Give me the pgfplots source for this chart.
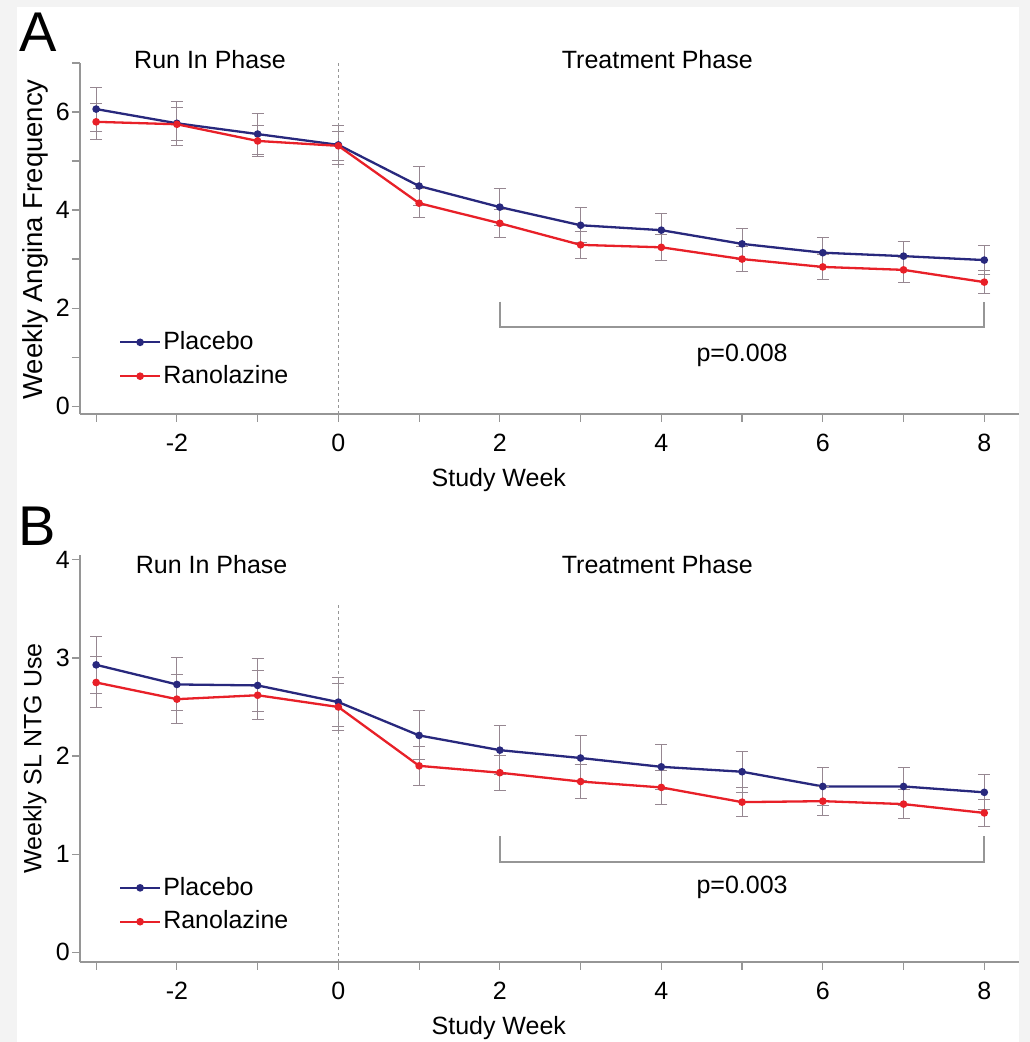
\documentclass[border=0pt]{standalone}
\usepackage{fontspec}
\setmainfont{Liberation Sans}
\usepackage{pgfplots}
\pgfplotsset{compat=1.18}

\definecolor{placebo}{RGB}{40,40,125}
\definecolor{rano}{RGB}{232,32,40}
\definecolor{errgray}{RGB}{150,135,145}
\definecolor{axgray}{RGB}{150,150,150}
\definecolor{margin}{RGB}{243,243,243}

% week  mean  err
\pgfplotstableread{
x y e
-3 6.06 0.45
-2 5.77 0.45
-1 5.55 0.41
0 5.33 0.40
1 4.49 0.40
2 4.06 0.38
3 3.69 0.36
4 3.59 0.35
5 3.31 0.32
6 3.13 0.31
7 3.06 0.30
8 2.98 0.29
}\angPlacebo
\pgfplotstableread{
x y e
-3 5.80 0.37
-2 5.75 0.34
-1 5.41 0.31
0 5.31 0.29
1 4.14 0.29
2 3.73 0.28
3 3.29 0.28
4 3.24 0.27
5 3.00 0.26
6 2.84 0.25
7 2.78 0.25
8 2.53 0.24
}\angRano
\pgfplotstableread{
x y e
-3 2.93 0.29
-2 2.73 0.27
-1 2.72 0.27
0 2.55 0.25
1 2.21 0.25
2 2.06 0.25
3 1.98 0.23
4 1.89 0.23
5 1.84 0.21
6 1.69 0.19
7 1.69 0.19
8 1.63 0.18
}\ntgPlacebo
\pgfplotstableread{
x y e
-3 2.75 0.26
-2 2.58 0.25
-1 2.62 0.25
0 2.50 0.24
1 1.90 0.20
2 1.83 0.18
3 1.74 0.17
4 1.68 0.17
5 1.53 0.15
6 1.54 0.15
7 1.51 0.15
8 1.42 0.14
}\ntgRano

\pgfplotsset{
  panel/.style={
    scale only axis, width=939pt,
    xmin=-3.2, xmax=8.43,
    axis x line*=bottom, axis y line*=left,
    axis line style={axgray, line width=1.8pt},
    tick style={axgray, line width=1.2pt},
    tick align=outside, major tick length=8pt,
    xtick={-3,...,8}, xticklabels={,-2,,0,,2,,4,,6,,8},
    xticklabel style={yshift=-4pt},
    yticklabel style={inner sep=2pt},
    /pgf/number format/assume math mode=true,
    clip=false,
    xlabel={Study Week},
    xlabel style={at={(axis description cs:0.446,0)}, anchor=center, yshift=-66pt},
    ylabel style={at={(axis description cs:-0.048,0.5)}, anchor=center, rotate=0},
    legend style={draw=none, fill=none, inner sep=0pt, row sep=8pt},
    legend cell align=left,
    legend image code/.code={\draw[mark repeat=2,mark phase=2,#1] plot coordinates {(0pt,0pt) (20pt,0pt) (40pt,0pt)};},
  },
  pl/.style={line width=2.3pt, mark=*, mark size=2.6pt, mark options={solid},
    error bars/y dir=both, error bars/y explicit,
    error bars/error bar style={errgray, line width=1pt},
    error bars/error mark options={errgray, rotate=90, mark size=6pt, line width=1pt}},
}

\begin{document}
\fontsize{25}{30}\selectfont
\begin{tikzpicture}
\fill[margin] (0,0) rectangle (1030pt,1042pt);
\fill[white] (17pt,0) rectangle (1019pt,1035pt);
\path[use as bounding box] (0,0) rectangle (1030pt,1042pt);

% Panel A
\begin{axis}[panel, at={(80pt,628pt)}, height=351pt,
  ymin=-0.16, ymax=7,
  ytick={0,...,7}, yticklabels={0,,2,,4,,6,},
  ylabel={Weekly Angina Frequency},
  ylabel style={font=\fontsize{27.5}{30}\selectfont, xshift=-1pt},
  legend style={at={(axis cs:-2.72,1.57)}, anchor=north west}]
\addplot[pl, placebo] table[x=x, y=y, y error=e] {\angPlacebo};
\addlegendentry{Placebo}
\addplot[pl, rano] table[x=x, y=y, y error=e] {\angRano};
\addlegendentry{Ranolazine}
\draw[axgray, line width=1.2pt, dash pattern=on 3pt off 3pt] (axis cs:0,-0.16) -- (axis cs:0,7);
\draw[axgray, line width=1.6pt] (axis cs:2,2.13) -- (axis cs:2,1.62) -- (axis cs:8,1.62) -- (axis cs:8,2.13);
\node at (axis cs:-1.59,7.06) {Run In Phase};
\node at (axis cs:3.95,7.06) {Treatment Phase};
\node at (axis cs:5.0,1.04) {p=0.008};
\end{axis}

% Panel B
\begin{axis}[panel, at={(80pt,80pt)}, height=407pt,
  ymin=-0.1, ymax=4.05,
  ytick={0,...,4},
  ylabel={Weekly SL NTG Use},
  legend style={at={(axis cs:-2.72,0.79)}, anchor=north west}]
\addplot[pl, placebo] table[x=x, y=y, y error=e] {\ntgPlacebo};
\addlegendentry{Placebo}
\addplot[pl, rano] table[x=x, y=y, y error=e] {\ntgRano};
\addlegendentry{Ranolazine}
\draw[axgray, line width=1.2pt, dash pattern=on 3pt off 3pt] (axis cs:0,-0.1) -- (axis cs:0,3.55);
\draw[axgray, line width=1.6pt] (axis cs:2,1.18) -- (axis cs:2,0.92) -- (axis cs:8,0.92) -- (axis cs:8,1.18);
\node at (axis cs:-1.57,3.95) {Run In Phase};
\node at (axis cs:3.95,3.95) {Treatment Phase};
\node at (axis cs:5.0,0.66) {p=0.003};
\end{axis}

\node[inner sep=0pt, font=\fontsize{56}{60}\selectfont] at (38pt,1010pt) {A};
\node[inner sep=0pt, font=\fontsize{56}{60}\selectfont] at (37pt,516pt) {B};
\end{tikzpicture}
\end{document}
